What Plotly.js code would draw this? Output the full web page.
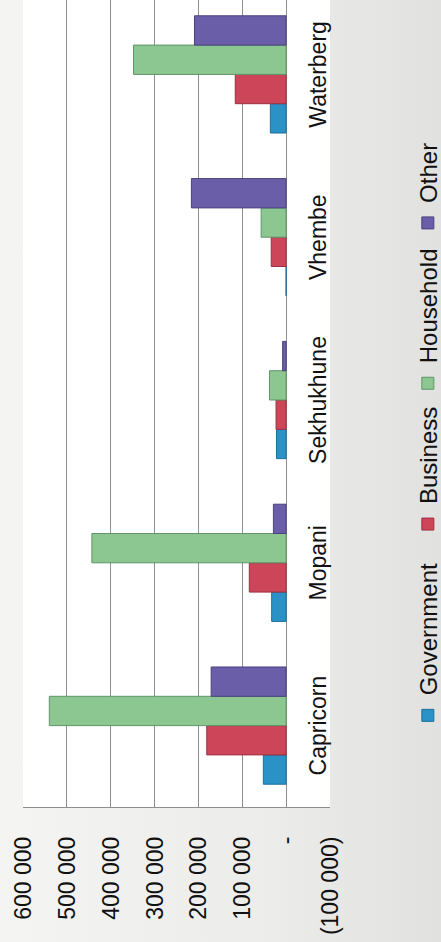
<!DOCTYPE html>
<html>
<head>
<meta charset="utf-8">
<script src="https://cdn.plot.ly/plotly-3.0.1.min.js"></script>
<style>
  html, body { margin: 0; padding: 0; width: 441px; height: 942px; overflow: hidden;
               background: linear-gradient(to right, #f4f4f2 0%, #ececea 60%, #e1e1df 100%); }
  #wrap { position: absolute; left: 0; top: 0; width: 960px; height: 441px;
          transform-origin: 0 0; transform: translate(0px, 942px) rotate(-90deg); }
  #chart { width: 960px; height: 441px; }
</style>
</head>
<body>
<div id="wrap"><div id="chart"></div></div>
<script>
const categories = ['Capricorn', 'Mopani', 'Sekhukhune', 'Vhembe', 'Waterberg'];
const government = [52000, 33000, 22000, 0, 36000];
const business   = [181000, 84000, 23000, 34000, 116000];
const household  = [540000, 443000, 38000, 57000, 348000];
const other      = [171000, 29000, 8000, 216000, 209000];

const valueTicks  = [-100000, 0, 100000, 200000, 300000, 400000, 500000, 600000];
const valueLabels = ['(100 000)', '-', '100 000', '200 000', '300 000', '400 000', '500 000', '600 000'];

const seriesNames  = ['Government', 'Business', 'Household', 'Other'];
const seriesValues = [government, business, household, other];
const seriesColors = ['#2b92c8', '#cc4558', '#8cc690', '#6a5ea8'];
const seriesLines  = ['#1d6f9c', '#9c3040', '#5f9567', '#4a4080'];
const legendIds    = ['legend', 'legend2', 'legend3', 'legend4'];
const legendX      = [0.088, 0.323, 0.496, 0.693];

const vMin = valueTicks[0], vMax = valueTicks[valueTicks.length - 1];
const font = 'Liberation Sans, Arial, sans-serif';

const traces = seriesNames.map((name, i) => ({
  type: 'bar',
  name: name,
  x: categories,
  y: seriesValues[i],
  legend: legendIds[i],
  marker: { color: seriesColors[i], line: { color: seriesLines[i], width: 1 } },
  hoverinfo: 'x+y+name'
}));

const layout = {
  width: 960,
  height: 441,
  margin: { l: 135, r: 11, t: 23, b: 111, autoexpand: false },
  paper_bgcolor: 'rgba(0,0,0,0)',
  plot_bgcolor: '#ffffff',
  barmode: 'group',
  bargap: 0.28,
  bargroupgap: 0,
  showlegend: true,
  xaxis: {
    type: 'category',
    anchor: 'free',
    position: (0 - vMin) / (vMax - vMin),
    showgrid: false,
    showline: false,
    zeroline: false,
    ticks: '',
    ticklabelstandoff: 16,
    tickfont: { family: font, size: 23, color: '#111111' }
  },
  yaxis: {
    range: [vMin, vMax],
    tickmode: 'array',
    tickvals: valueTicks,
    ticktext: valueLabels,
    showgrid: true,
    gridcolor: '#8e8e8e',
    gridwidth: 1,
    zeroline: true,
    zerolinecolor: '#8e8e8e',
    zerolinewidth: 1,
    showline: true,
    mirror: true,
    linecolor: '#8e8e8e',
    linewidth: 1,
    ticks: '',
    ticklabelstandoff: 24,
    tickfont: { family: font, size: 23, color: '#111111' }
  }
};

legendIds.forEach((id, i) => {
  layout[id] = {
    orientation: 'h',
    x: legendX[i], xanchor: 'left',
    y: -0.32, yanchor: 'middle',
    font: { family: font, size: 24, color: '#111111' },
    bgcolor: 'rgba(0,0,0,0)',
    itemclick: false
  };
});

Plotly.newPlot('chart', traces, layout, { displayModeBar: false, staticPlot: true });
</script>
</body>
</html>
